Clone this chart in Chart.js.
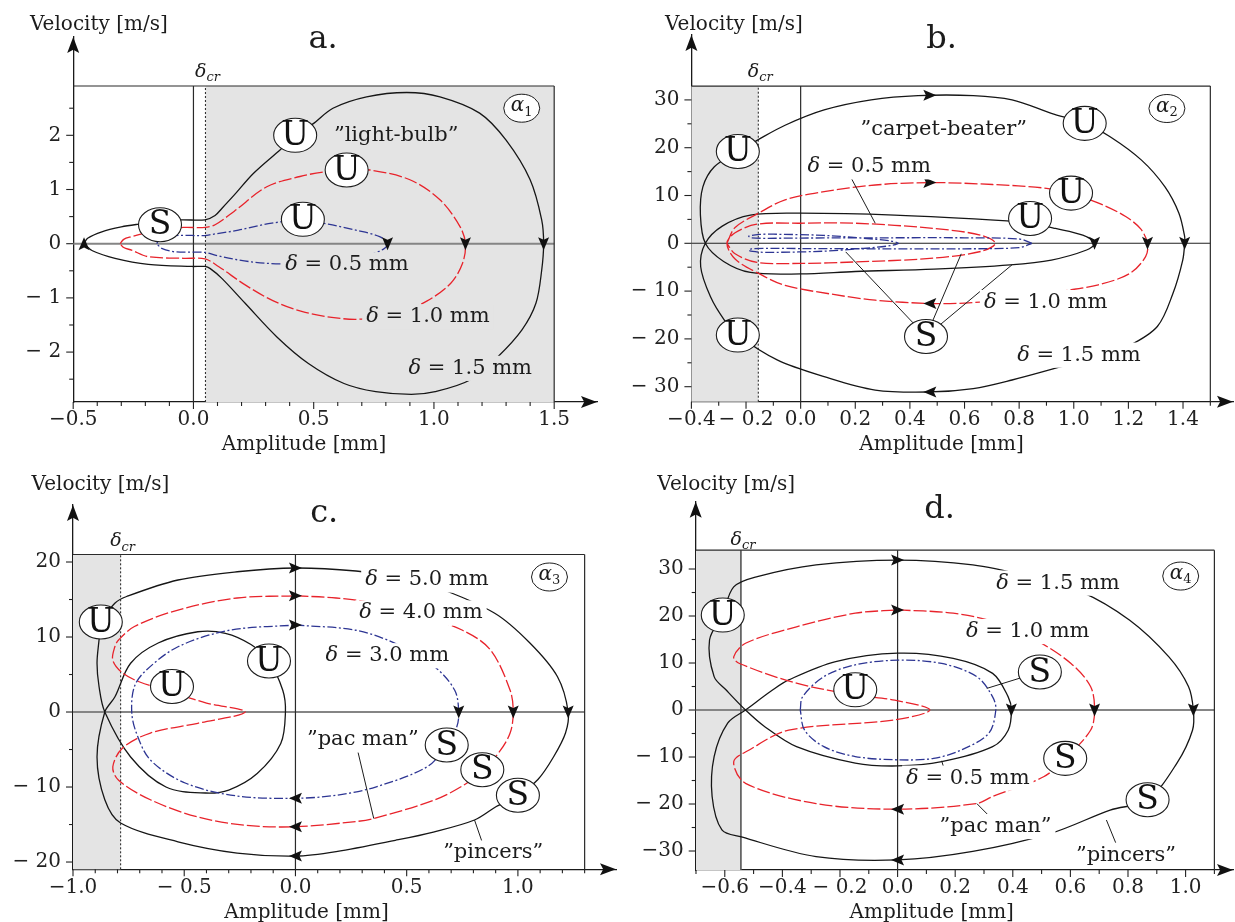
<!DOCTYPE html>
<html>
<head>
<meta charset="utf-8">
<title>Phase portraits</title>
<script src="https://cdn.jsdelivr.net/npm/chart.js@4.4.1/dist/chart.umd.min.js"></script>
<style>
  html, body { margin: 0; padding: 0; background: #fff; }
  #page { position: relative; width: 1235px; height: 922px; overflow: hidden; background: #fff; }
  .panel { position: absolute; width: 618px; height: 461px; }
</style>
</head>
<body>
<div id="page">
  <div class="panel" style="left:0;top:0"><canvas id="chartA" width="618" height="461"></canvas></div>
  <div class="panel" style="left:617px;top:0"><canvas id="chartB" width="618" height="461"></canvas></div>
  <div class="panel" style="left:0;top:461px"><canvas id="chartC" width="618" height="461"></canvas></div>
  <div class="panel" style="left:617px;top:461px"><canvas id="chartD" width="618" height="461"></canvas></div>
</div>
<script>
const SERIF = '"DejaVu Serif", "Liberation Serif", serif';
const BLACK = '#161616', RED = '#e8232b', BLUE = '#2d3593', SHADE = '#e4e4e4';

// ---- panel a: "light-bulb" ----
const aXTicks = [-0.5, 0, 0.5, 1, 1.5];
const aXLabels = ['\u22120.5', '0.0', '0.5', '1.0', '1.5'];
const aYTicks = [-2, -1, 0, 1, 2];
const aYLabels = ['\u2212 2', '\u2212 1', '0', '1', '2'];
const aDelta15 = [[-0.455,0],[-0.44,0.1],[-0.381,0.22],[-0.30,0.31],[-0.229,0.36],[-0.14,0.41],[-0.049,0.44],[0.048,0.44],[0.09,0.52],[0.118,0.65],[0.17,0.9],[0.25,1.3],[0.36,1.73],[0.423,1.98],[0.50,2.22],[0.58,2.5],[0.72,2.71],[0.887,2.79],[1.025,2.71],[1.19,2.41],[1.30,1.91],[1.40,1.18],[1.448,0.44],[1.456,0],[1.448,-0.49],[1.424,-1.1],[1.366,-1.59],[1.267,-2.08],[1.152,-2.51],[1.005,-2.73],[0.906,-2.78],[0.758,-2.73],[0.626,-2.58],[0.478,-2.21],[0.347,-1.72],[0.215,-1.1],[0.118,-0.64],[0.07,-0.46],[0.048,-0.42],[-0.007,-0.42],[-0.188,-0.38],[-0.326,-0.27],[-0.42,-0.13],[-0.455,0]];
const aDelta10 = [[-0.305,0],[-0.29,0.08],[-0.257,0.13],[-0.215,0.18],[-0.12,0.26],[-0.042,0.30],[0.048,0.30],[0.09,0.35],[0.17,0.6],[0.305,1.05],[0.443,1.24],[0.55,1.33],[0.637,1.36],[0.734,1.36],[0.90,1.18],[1.025,0.81],[1.109,0.31],[1.131,0],[1.119,-0.36],[1.07,-0.73],[0.97,-1.06],[0.85,-1.28],[0.70,-1.39],[0.593,-1.37],[0.45,-1.25],[0.33,-1.05],[0.215,-0.76],[0.104,-0.42],[0.048,-0.28],[-0.04,-0.27],[-0.188,-0.24],[-0.257,-0.12],[-0.29,-0.07],[-0.305,0]];
const aDelta05 = [[-0.153,0],[-0.14,0.09],[-0.077,0.15],[0.048,0.15],[0.076,0.17],[0.187,0.25],[0.326,0.38],[0.455,0.43],[0.56,0.36],[0.675,0.25],[0.774,0.13],[0.807,0],[0.79,-0.1],[0.72,-0.22],[0.593,-0.33],[0.45,-0.37],[0.298,-0.36],[0.187,-0.30],[0.09,-0.21],[0.048,-0.16],[-0.077,-0.15],[-0.132,-0.085],[-0.153,0]];
const aArrows = [[-0.455,0,'up'],[0.807,0,'down'],[1.131,0,'down'],[1.456,0,'down']];
const aCircles = [['U',0.423,2.0],['U',0.637,1.36],['U',0.455,0.45],['S',-0.139,0.35]];
const aLabels = [['\u201dlight-bulb\u201d',0.843,2.0],['\u03b4 = 0.5 mm',0.638,-0.39],['\u03b4 = 1.0 mm',0.975,-1.35],['\u03b4 = 1.5 mm',1.151,-2.30]];
const aLeaders = [];

// ---- panel b: "carpet-beater" ----
const bXTicks = [-0.4, -0.2, 0, 0.2, 0.4, 0.6, 0.8, 1.0, 1.2, 1.4];
const bXLabels = ['\u22120.4', '\u2212 0.2', '0.0', '0.2', '0.4', '0.6', '0.8', '1.0', '1.2', '1.4'];
const bYTicks = [-30, -20, -10, 0, 10, 20, 30];
const bYLabels = ['\u2212 30', '\u2212 20', '\u2212 10', '0', '10', '20', '30'];
const bDelta15 = [[-0.23,19.2],[-0.158,21.6],[-0.057,24.7],[0.086,27.9],[0.258,30.0],[0.43,30.9],[0.632,30.9],[0.774,30.0],[0.918,27.2],[1.04,25.1],[1.133,22.3],[1.248,17.4],[1.334,11.8],[1.385,6.3],[1.406,1.4],[1.406,0],[1.399,-3.5],[1.363,-10.5],[1.306,-17.4],[1.20,-21.5],[1.08,-24.0],[0.975,-25.5],[0.774,-28.6],[0.632,-30.4],[0.473,-31.1],[0.273,-30.7],[0.086,-27.9],[-0.086,-24.4],[-0.23,-19.2],[-0.28,-16.0],[-0.33,-11.2],[-0.366,-4.9],[-0.349,0],[-0.287,3.6],[-0.184,5.9],[0,6.3],[0.344,5.9],[0.755,4.7],[0.84,4.2],[0.933,3.1],[1.033,1.7],[1.076,0],[1.047,-1.4],[0.918,-3.5],[0.767,-4.5],[0.488,-5.4],[0.2,-5.9],[0,-6.4],[-0.184,-6.1],[-0.282,-3.8],[-0.349,0],[-0.367,5.9],[-0.358,11.8],[-0.316,16.0],[-0.23,19.2]];
const bDelta10 = [[-0.27,0],[-0.24,3.3],[-0.154,6.3],[-0.057,9.1],[0.086,10.8],[0.273,12.2],[0.473,12.7],[0.703,12.3],[0.90,11.5],[1.0,10.2],[1.1,8.2],[1.19,5.6],[1.245,3.0],[1.27,0],[1.263,-2.8],[1.205,-6.3],[1.09,-8.7],[0.947,-10.1],[0.80,-11.6],[0.6,-12.5],[0.473,-12.6],[0.273,-11.9],[0.12,-10.7],[-0.057,-8.8],[-0.154,-6.3],[-0.24,-3.3],[-0.27,0],[-0.24,2.2],[-0.16,4.0],[0,4.2],[0.2,4.2],[0.489,3.1],[0.66,1.7],[0.713,0],[0.66,-1.7],[0.489,-3.1],[0.2,-3.9],[0,-4.2],[-0.16,-4.0],[-0.24,-2.2],[-0.27,0]];
const bDelta05 = [[0.847,0],[0.80,0.9],[0.6,1.15],[0.3,1.15],[0,1.1],[-0.12,1.05],[-0.18,1.15],[-0.19,1.5],[-0.15,1.85],[-0.099,1.9],[0.084,1.65],[0.23,1.05],[0.328,0.5],[0.358,0],[0.328,-0.5],[0.23,-1.05],[0.084,-1.65],[-0.099,-1.9],[-0.15,-1.85],[-0.19,-1.5],[-0.18,-1.15],[-0.12,-1.05],[0,-1.1],[0.3,-1.15],[0.6,-1.15],[0.80,-0.9],[0.847,0]];
const bArrows = [[0.473,31.0,'right'],[1.406,0,'down'],[0.473,-31.1,'left'],[1.076,0,'down'],[0.473,12.7,'right'],[1.27,0,'down'],[0.473,-12.6,'left']];
const bCircles = [['U',-0.23,19.2],['U',1.04,25.1],['U',0.99,10.5],['U',0.84,5.2],['U',-0.23,-19.2],['S',0.459,-19.5]];
const bLabels = [['\u201dcarpet-beater\u201d',0.524,23.7],['\u03b4 = 0.5 mm',0.251,16.0],['\u03b4 = 1.0 mm',0.897,-12.4],['\u03b4 = 1.5 mm',1.019,-23.4]];
const bLeaders = [[0.179,14.3,0.273,4.2],[0.459,-19.5,0.165,-1.8],[0.459,-19.5,0.588,-2.2],[0.459,-19.5,0.774,-4.5]];

// ---- panel c: "pac man" / "pincers" ----
const cXTicks = [-1, -0.5, 0, 0.5, 1];
const cXLabels = ['\u22121.0', '\u2212 0.5', '0.0', '0.5', '1.0'];
const cYTicks = [-20, -10, 0, 10, 20];
const cYLabels = ['\u2212 20', '\u2212 10', '0', '10', '20'];
const cDelta50 = [[-0.875,12.0],[-0.812,14.5],[-0.759,15.4],[-0.528,17.6],[-0.262,18.7],[0,19.2],[0.272,18.8],[0.45,18.0],[0.627,16.7],[0.894,13.2],[1.054,9.2],[1.178,4.7],[1.226,0],[1.214,-2.8],[1.16,-6.0],[1.09,-9.0],[1.0,-11.1],[0.903,-12.6],[0.805,-14.4],[0.62,-16.0],[0.449,-17.1],[0.183,-18.6],[0,-19.2],[-0.262,-18.8],[-0.528,-17.3],[-0.786,-14.8],[-0.857,-11.7],[-0.892,-6.0],[-0.857,0],[-0.812,2.0],[-0.741,6.5],[-0.617,9.2],[-0.439,10.7],[-0.315,10.5],[-0.20,9.0],[-0.119,6.8],[-0.057,2.9],[-0.045,0],[-0.066,-4.2],[-0.172,-8.2],[-0.30,-10.4],[-0.404,-10.8],[-0.582,-10.0],[-0.741,-6.0],[-0.857,0],[-0.883,3.4],[-0.892,6.5],[-0.883,9.6],[-0.875,12.0]];
const cDelta40 = [[0,15.5],[0.183,15.2],[0.36,14.5],[0.55,13.0],[0.751,10.9],[0.876,8.3],[0.965,2.9],[0.979,0],[0.965,-2.8],[0.912,-5.5],[0.84,-7.7],[0.77,-9.5],[0.627,-11.7],[0.352,-14.2],[0.272,-14.6],[0,-15.3],[-0.226,-15.1],[-0.439,-14.0],[-0.652,-11.7],[-0.795,-9.1],[-0.821,-7.3],[-0.777,-4.8],[-0.652,-2.8],[-0.439,-1.5],[-0.226,0],[-0.40,1.2],[-0.55,2.6],[-0.70,4.0],[-0.777,5.2],[-0.821,6.9],[-0.812,8.7],[-0.795,9.6],[-0.724,11.4],[-0.528,13.6],[-0.262,15.2],[0,15.5]];
const cDelta30 = [[0,11.6],[0.272,10.9],[0.467,8.9],[0.627,6.0],[0.716,2.9],[0.734,0],[0.725,-2.0],[0.68,-4.4],[0.592,-7.3],[0.36,-10.0],[0.183,-11.1],[0,-11.5],[-0.262,-11.2],[-0.493,-9.5],[-0.652,-6.4],[-0.715,-2.8],[-0.736,0],[-0.724,3.4],[-0.67,5.6],[-0.528,8.7],[-0.297,10.9],[0,11.6]];
const cArrows = [[0,19.2,'right'],[1.226,0,'down'],[0,-19.2,'left'],[0,15.5,'right'],[0.979,0,'down'],[0,-15.3,'left'],[0,11.6,'right'],[0.734,0,'down'],[0,-11.5,'left']];
const cCircles = [['U',-0.875,12.0],['U',-0.119,6.8],['U',-0.555,3.4],['S',0.68,-4.4],['S',0.84,-7.7],['S',1.0,-11.1]];
const cLabels = [['\u03b4 = 5.0 mm',0.591,17.6],['\u03b4 = 4.0 mm',0.564,13.2],['\u03b4 = 3.0 mm',0.413,7.5],['\u201dpac man\u201d',0.303,-3.73],['\u201dpincers\u201d',0.889,-18.8]];
const cLeaders = [[0.28,-5.2,0.352,-14.2],[0.84,-17.4,0.805,-14.4]];

// ---- panel d ----
const dXTicks = [-0.6, -0.4, -0.2, 0, 0.2, 0.4, 0.6, 0.8, 1.0];
const dXLabels = ['\u22120.6', '\u22120.4', '\u2212 0.2', '0.0', '0.2', '0.4', '0.6', '0.8', '1.0'];
const dYTicks = [-30, -20, -10, 0, 10, 20, 30];
const dYLabels = ['\u221230', '\u2212 20', '\u2212 10', '0', '10', '20', '30'];
const dDelta15 = [[-0.607,20.2],[-0.569,26.2],[-0.487,28.4],[-0.283,30.9],[0,31.9],[0.261,30.9],[0.45,28.5],[0.636,25.2],[0.806,19.1],[0.942,11.3],[1.01,5.0],[1.027,0],[1.024,-4.3],[0.97,-11.3],[0.868,-19.1],[0.738,-21.3],[0.534,-26.2],[0.261,-30.1],[0,-31.9],[-0.283,-31.2],[-0.542,-27.0],[-0.61,-25.5],[-0.644,-18.4],[-0.637,-9.9],[-0.59,-2.8],[-0.528,0],[-0.433,4.3],[-0.378,6.4],[-0.215,10.3],[0,12.1],[0.193,11.0],[0.33,7.8],[0.384,2.8],[0.395,0],[0.384,-4.3],[0.33,-7.8],[0.153,-11.0],[0,-11.9],[-0.147,-11.3],[-0.351,-7.8],[-0.46,-3.6],[-0.528,0],[-0.596,4.3],[-0.637,7.1],[-0.653,14.9],[-0.607,20.2]];
const dDelta10 = [[0,21.3],[0.193,20.6],[0.35,18.5],[0.48,14.9],[0.602,9.9],[0.67,5.0],[0.684,0],[0.67,-4.3],[0.582,-10.3],[0.507,-14.2],[0.33,-18.4],[0.275,-19.9],[0,-21.1],[-0.283,-19.9],[-0.528,-15.6],[-0.569,-11.0],[-0.515,-8.5],[-0.378,-4.3],[-0.01,-2.1],[0.112,0],[-0.01,2.1],[-0.147,3.2],[-0.351,5.7],[-0.549,9.9],[-0.569,11.3],[-0.528,14.2],[-0.351,17.7],[-0.147,20.6],[0,21.3]];
const dDelta05 = [[-0.338,0],[-0.33,2.8],[-0.256,7.1],[-0.147,9.6],[0,10.6],[0.153,9.9],[0.275,7.1],[0.33,2.8],[0.341,0],[0.316,-5.0],[0.221,-8.5],[0.125,-10.3],[0,-10.6],[-0.147,-9.9],[-0.256,-7.8],[-0.323,-4.3],[-0.338,0]];
const dArrows = [[0,31.9,'right'],[1.027,0,'down'],[0,-31.9,'left'],[0.395,0,'down'],[0,21.3,'right'],[0.684,0,'down'],[0,-21.1,'left']];
const dCircles = [['U',-0.607,20.2],['U',-0.147,4.3],['S',0.494,8.1],['S',0.582,-10.3],['S',0.868,-19.1]];
const dLabels = [['\u03b4 = 1.5 mm',0.557,27.0],['\u03b4 = 1.0 mm',0.452,16.7],['\u03b4 = 0.5 mm',0.244,-14.5],['\u201dpac man\u201d',0.34,-24.8],['\u201dpincers\u201d',0.793,-30.9]];
const dLeaders = [[0.494,8.1,0.31,4.6],[0.153,-10.8,0.164,-13.0],[0.275,-19.9,0.33,-23.3],[0.725,-23.4,0.765,-29.4]];

// per-panel decoration settings (layout, not data)
const panels = {
  chartA: { title: 'a.', alpha: ['1', 1.365, 2.50], circles: aCircles, arrows: aArrows, labels: aLabels, leaders: aLeaders,
    xMajors: aXTicks, yMajors: aYTicks, xTick: [-0.5, 1.5, 0.1], yTick: [-2.5, 2.5, 0.5],
    shade: [0.05, 1.5], crit: 0.05, critDash: [2, 2], critColor: '#333', boxTop: 2.91, boxRight: 1.5,
    zeroColor: '#858585', zeroWidth: 2, titlePos: [323, 40], velPos: [30, 25], ampPos: [304, 445], critDy: 14 },
  chartB: { title: 'b.', alpha: ['2', 1.341, 28.2], circles: bCircles, arrows: bArrows, labels: bLabels, leaders: bLeaders,
    xMajors: bXTicks, yMajors: bYTicks, xTick: [-0.4, 1.5, 0.1], yTick: [-30, 30, 5],
    shade: [-0.4, -0.155], crit: -0.155, critDash: [2, 2], critColor: '#333', boxTop: 32.9, boxRight: 1.5,
    zeroColor: '#222', zeroWidth: 1.1, titlePos: [324.6, 40], velPos: [48, 25], ampPos: [324.5, 445], critDy: 14 },
  chartC: { title: 'c.', alpha: ['3', 1.142, 18.0], circles: cCircles, arrows: cArrows, labels: cLabels, leaders: cLeaders,
    xMajors: cXTicks, yMajors: cYTicks, xTick: [-1.0, 1.3, 0.1], yTick: [-20, 20, 5],
    shade: [-1.0, -0.786], crit: -0.786, critDash: [2, 2], critColor: '#333', boxTop: 21.0, boxRight: 1.3,
    zeroColor: '#858585', zeroWidth: 2, titlePos: [324.2, 52.3], velPos: [31.6, 24], ampPos: [306.5, 452], critDy: 13 },
  chartD: { title: 'd.', alpha: ['4', 0.983, 28.5], circles: dCircles, arrows: dArrows, labels: dLabels, leaders: dLeaders,
    xMajors: dXTicks, yMajors: dYTicks, xTick: [-0.7, 1.1, 0.1], yTick: [-30, 30, 5],
    shade: [-0.7, -0.544], crit: -0.544, critDash: [], critColor: '#555', boxTop: 34.0, boxRight: 1.1,
    zeroColor: '#858585', zeroWidth: 2, titlePos: [322.6, 49], velPos: [40.3, 24], ampPos: [314.7, 452], critDy: 10 }
};

function line(ctx, x1, y1, x2, y2, color, width, dash) {
  ctx.save();
  ctx.strokeStyle = color;
  ctx.lineWidth = width;
  ctx.setLineDash(dash || []);
  ctx.beginPath();
  ctx.moveTo(x1, y1);
  ctx.lineTo(x2, y2);
  ctx.stroke();
  ctx.restore();
}

function arrowHead(ctx, px, py, dir, len, half) {
  const d = { up: [0, -1], down: [0, 1], left: [-1, 0], right: [1, 0] }[dir];
  const n = [-d[1], d[0]];
  const tx = px + d[0] * len / 2, ty = py + d[1] * len / 2;
  const bx = px - d[0] * len / 2, by = py - d[1] * len / 2;
  const mx = px - d[0] * len * 0.3, my = py - d[1] * len * 0.3;
  ctx.beginPath();
  ctx.moveTo(tx, ty);
  ctx.lineTo(bx + n[0] * half, by + n[1] * half);
  ctx.lineTo(mx, my);
  ctx.lineTo(bx - n[0] * half, by - n[1] * half);
  ctx.closePath();
  ctx.fill();
}

function richText(ctx, text, cx, cy, size, bg) {
  const pieces = text.startsWith('\u03b4') ? [['\u03b4', 'italic '], [text.slice(1), '']] : [[text, '']];
  let w = 0;
  pieces.forEach(p => { ctx.font = p[1] + size + 'px ' + SERIF; p.push(ctx.measureText(p[0]).width); w += p[2]; });
  let x0 = cx - w / 2;
  if (bg) {
    ctx.fillStyle = bg;
    ctx.fillRect(x0 - 4, cy - size * 0.6, w + 8, size * 1.2);
  }
  ctx.fillStyle = '#1c1c1c';
  ctx.textAlign = 'left';
  ctx.textBaseline = 'middle';
  pieces.forEach(p => { ctx.font = p[1] + size + 'px ' + SERIF; ctx.fillText(p[0], x0, cy); x0 += p[2]; });
}

function subText(ctx, main, sub, cx, cy, size, subSize) {
  const subFont = (isNaN(sub) ? 'italic ' : '') + subSize + 'px ' + SERIF;
  ctx.font = 'italic ' + size + 'px ' + SERIF;
  const w1 = ctx.measureText(main).width;
  ctx.font = subFont;
  const w2 = ctx.measureText(sub).width;
  let x0 = cx - (w1 + w2) / 2;
  ctx.fillStyle = '#1c1c1c';
  ctx.textAlign = 'left';
  ctx.textBaseline = 'middle';
  ctx.font = 'italic ' + size + 'px ' + SERIF;
  ctx.fillText(main, x0, cy);
  ctx.font = subFont;
  ctx.fillText(sub, x0 + w1, cy + size * 0.3);
}

const decor = {
  id: 'decor',
  beforeDatasetsDraw(chart) {
    const p = panels[chart.canvas.id];
    const { ctx, chartArea: ca } = chart;
    const X = v => chart.scales.x.getPixelForValue(v);
    const Y = v => chart.scales.y.getPixelForValue(v);
    const top = Y(p.boxTop), right = X(p.boxRight);
    ctx.save();
    ctx.fillStyle = SHADE;
    ctx.fillRect(X(p.shade[0]), top, X(p.shade[1]) - X(p.shade[0]), ca.bottom - top);
    line(ctx, ca.left, Y(0), right, Y(0), p.zeroColor, p.zeroWidth);
    line(ctx, X(0), ca.bottom, X(0), top, '#2a2a2a', 1.2);
    line(ctx, X(p.crit), ca.bottom, X(p.crit), top, p.critColor, p.critDash.length ? 1.1 : 1.6, p.critDash);
    line(ctx, ca.left, top, right, top, '#2a2a2a', 1.2);
    line(ctx, right, ca.bottom, right, top, '#2a2a2a', 1.2);
    // tick marks, major longer than minor
    const isMaj = (list, v) => list.some(m => Math.abs(m - v) < 1e-6);
    const nx = Math.round((p.xTick[1] - p.xTick[0]) / p.xTick[2]);
    for (let k = 0; k <= nx; k++) {
      const v = p.xTick[0] + k * p.xTick[2];
      const len = isMaj(p.xMajors, v) ? 7 : 4;
      line(ctx, X(v), ca.bottom, X(v), ca.bottom + len, '#222', 1.1);
    }
    const ny = Math.round((p.yTick[1] - p.yTick[0]) / p.yTick[2]);
    for (let k = 0; k <= ny; k++) {
      const v = p.yTick[0] + k * p.yTick[2];
      const len = isMaj(p.yMajors, v) ? 7 : 4;
      line(ctx, ca.left, Y(v), ca.left - len, Y(v), '#222', 1.1);
    }
    ctx.restore();
  },
  afterDatasetsDraw(chart) {
    const p = panels[chart.canvas.id];
    const { ctx, chartArea: ca } = chart;
    const X = v => chart.scales.x.getPixelForValue(v);
    const Y = v => chart.scales.y.getPixelForValue(v);
    ctx.save();
    // flow direction arrows on the trajectories
    ctx.fillStyle = '#111';
    p.arrows.forEach(a => arrowHead(ctx, X(a[0]), Y(a[1]), a[2], 13, 5.5));
    // leader lines
    p.leaders.forEach(l => line(ctx, X(l[0]), Y(l[1]), X(l[2]), Y(l[3]), '#1c1c1c', 1));
    // text labels on a background box that interrupts the curves
    p.labels.forEach(l => {
      const inShade = l[1] >= p.shade[0] && l[1] <= p.shade[1];
      richText(ctx, l[0], X(l[1]), Y(l[2]), 21, inShade ? SHADE : '#fff');
    });
    // stable / unstable markers
    p.circles.forEach(c => {
      const px = X(c[1]), py = Y(c[2]);
      ctx.beginPath();
      ctx.ellipse(px, py, 21.5, 17, 0, 0, Math.PI * 2);
      ctx.fillStyle = '#fff';
      ctx.fill();
      ctx.lineWidth = 1.1;
      ctx.strokeStyle = '#1c1c1c';
      ctx.stroke();
      ctx.fillStyle = '#111';
      ctx.font = '33px ' + SERIF;
      ctx.textAlign = 'center';
      ctx.textBaseline = 'middle';
      ctx.fillText(c[0], px, py + 1);
    });
    // alpha badge
    const ax = X(p.alpha[1]), ay = Y(p.alpha[2]);
    ctx.beginPath();
    ctx.ellipse(ax, ay, 18, 14, 0, 0, Math.PI * 2);
    ctx.fillStyle = '#fff';
    ctx.fill();
    ctx.lineWidth = 1;
    ctx.strokeStyle = '#1c1c1c';
    ctx.stroke();
    subText(ctx, '\u03b1', p.alpha[0], ax, ay - 2, 20, 13);
    // axis arrowheads
    ctx.fillStyle = '#111';
    arrowHead(ctx, ca.right - 8, ca.bottom, 'right', 16, 6);
    arrowHead(ctx, ca.left, ca.top + 8, 'up', 16, 6);
    // critical amplitude label
    subText(ctx, '\u03b4', 'cr', X(p.crit) + 2, Y(p.boxTop) - p.critDy, 19, 13);
    // titles
    ctx.fillStyle = '#1c1c1c';
    ctx.textBaseline = 'middle';
    ctx.textAlign = 'center';
    ctx.font = '32px ' + SERIF;
    ctx.fillText(p.title, p.titlePos[0], p.titlePos[1]);
    ctx.font = '20px ' + SERIF;
    ctx.fillText('Amplitude [mm]', p.ampPos[0], p.ampPos[1]);
    ctx.textAlign = 'left';
    ctx.fillText('Velocity [m/s]', p.velPos[0], p.velPos[1]);
    ctx.restore();
  }
};

function curve(points, color, dash, order) {
  return {
    data: points.map(([x, y]) => ({ x, y })),
    showLine: true,
    borderColor: color,
    borderWidth: 1.3,
    borderDash: dash,
    pointRadius: 0,
    tension: 0.33,
    fill: false,
    order: order
  };
}

function scale(min, max, majors, labels, isX, size, pad) {
  return {
    type: 'linear',
    min: min,
    max: max,
    bounds: 'data',
    grid: { display: false, drawTicks: false },
    border: { display: true, color: '#1a1a1a', width: 1.3 },
    afterBuildTicks: s => { s.ticks = majors.map(v => ({ value: v })); },
    afterFit: s => { if (isX) s.height = size; else s.width = size; },
    ticks: {
      autoSkip: false, maxRotation: 0, minRotation: 0, padding: pad,
      color: '#222', font: { family: SERIF, size: 20 },
      callback: (v, i) => labels[i]
    }
  };
}

function makeChart(id, datasets, xr, yr, xTicks, xLabels, yTicks, yLabels, yWidth, xHeight, padTop, padRight) {
  return new Chart(document.getElementById(id), {
    type: 'scatter',
    data: { datasets: datasets },
    options: {
      responsive: false,
      animation: false,
      events: [],
      layout: { padding: { top: padTop, right: padRight, left: 0, bottom: 0 } },
      plugins: { legend: { display: false }, tooltip: { enabled: false } },
      scales: {
        x: scale(xr[0], xr[1], xTicks, xLabels, true, xHeight, 6),
        y: scale(yr[0], yr[1], yTicks, yLabels, false, yWidth, 12)
      }
    },
    plugins: [decor]
  });
}

const RED_DASH = [13, 3];
const BLUE_DASH = [9, 2.5, 2, 2.5];

makeChart('chartA',
  [curve(aDelta15, BLACK, [], 3), curve(aDelta10, RED, RED_DASH, 2), curve(aDelta05, BLUE, BLUE_DASH, 1)],
  [-0.5, 1.678], [-2.921, 3.814], aXTicks, aXLabels, aYTicks, aYLabels, 73.2, 59, 37, 21);

makeChart('chartB',
  [curve(bDelta15, BLACK, [], 3), curve(bDelta10, RED, RED_DASH, 2), curve(bDelta05, BLUE, BLUE_DASH, 1)],
  [-0.4, 1.583], [-33.14, 43.58], bXTicks, bXLabels, bYTicks, bYLabels, 74.4, 59.3, 35, 2);

makeChart('chartC',
  [curve(cDelta50, BLACK, [], 3), curve(cDelta40, RED, RED_DASH, 2), curve(cDelta30, BLUE, BLUE_DASH, 1)],
  [-1.0, 1.441], [-20.97, 27.6], cXTicks, cXLabels, cYTicks, cYLabels, 73, 52.7, 44, 2);

makeChart('chartD',
  [curve(dDelta15, BLACK, [], 3), curve(dDelta10, RED, RED_DASH, 2), curve(dDelta05, BLUE, BLUE_DASH, 1)],
  [-0.701, 1.1646], [-34.04, 44.32], dXTicks, dXLabels, dYTicks, dYLabels, 78.7, 52, 40.7, 2);
</script>
</body>
</html>
